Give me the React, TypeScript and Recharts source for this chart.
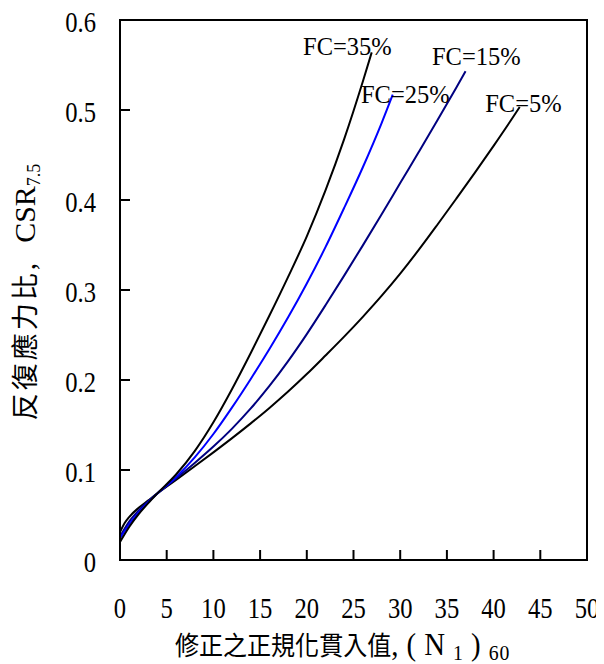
import React from 'react';
import { LineChart, Line, XAxis, YAxis, ReferenceArea, ReferenceDot } from 'recharts';

const xTicks = [0, 5, 10, 15, 20, 25, 30, 35, 40, 45, 50];
const yTicks = [0, 0.1, 0.2, 0.3, 0.4, 0.5, 0.6];
const yTickLabels = ['0', '0.1', '0.2', '0.3', '0.4', '0.5', '0.6'];

const fc35N = [0, 1, 2, 3, 4, 6, 8, 10, 12, 14, 16, 18, 20, 22, 24, 26, 26.95];
const fc35CSR = [0.020, 0.037, 0.051, 0.063, 0.074, 0.095, 0.121, 0.153, 0.190, 0.230, 0.2716, 0.3146, 0.3596, 0.4106, 0.4676, 0.5316, 0.564];

const fc25N = [0, 1, 2, 3, 4, 6, 8, 10, 12, 14, 16, 18, 20, 22, 24, 26, 28, 29.2];
const fc25CSR = [0.024, 0.040, 0.053, 0.064, 0.074, 0.092, 0.114, 0.140, 0.1696, 0.2012, 0.2344, 0.2696, 0.3072, 0.3476, 0.3912, 0.4364, 0.4852, 0.517];

const fc15N = [0, 1, 2, 3, 4, 6, 8, 10, 12, 14, 16, 18, 20, 22, 24, 26, 28, 30, 32, 34, 36, 37];
const fc15CSR = [0.026, 0.043, 0.055, 0.065, 0.074, 0.0906, 0.1078, 0.126, 0.146, 0.1684, 0.1934, 0.221, 0.251, 0.283, 0.316, 0.3496, 0.3838, 0.4188, 0.4536, 0.4888, 0.5248, 0.543];

const fc5N = [0, 0.5, 1, 2, 3, 4, 6, 8, 10, 12, 14, 16, 18, 20, 22, 24, 26, 28, 30, 32, 34, 36, 38, 40, 42, 42.8];
const fc5CSR = [0.031, 0.041, 0.048, 0.058, 0.066, 0.074, 0.089, 0.1042, 0.1196, 0.1354, 0.1518, 0.169, 0.1872, 0.2066, 0.2272, 0.2482, 0.2702, 0.2934, 0.3182, 0.3448, 0.3728, 0.4014, 0.4304, 0.4602, 0.4908, 0.5034];

const curveLabels = ['FC=35%', 'FC=25%', 'FC=15%', 'FC=5%'];
const labelN = [19.6, 25.8, 33.4, 39.1];
const labelCSR = [0.561, 0.508, 0.55, 0.498];

const toData = (ns: number[], cs: number[]) => ns.map((n, i) => ({ n, csr: cs[i] }));

const d35 = toData(fc35N, fc35CSR);
const d25 = toData(fc25N, fc25CSR);
const d15 = toData(fc15N, fc15CSR);
const d5 = toData(fc5N, fc5CSR);

const SERIF = '"Liberation Serif", "Times New Roman", Times, serif';
const CJKF = '"Noto Sans CJK TC", "Noto Sans CJK SC", sans-serif';

const XTick = (props: any) => {
  const { x, y, payload } = props;
  return (
    <g>
      <line x1={x} x2={x} y1={y} y2={y - 10} stroke="#000" strokeWidth={2} />
      <text
        transform={`translate(${x},${y + 58}) scale(0.82,1)`}
        textAnchor="middle"
        fontSize={30}
        fontFamily={SERIF}
        fill="#000"
      >
        {payload.value}
      </text>
    </g>
  );
};

const YTick = (props: any) => {
  const { x, y, payload } = props;
  const idx = yTicks.indexOf(payload.value);
  const label = idx >= 0 ? yTickLabels[idx] : String(payload.value);
  return (
    <g>
      <line x1={x} x2={x + 10} y1={y} y2={y} stroke="#000" strokeWidth={2} />
      <text
        transform={`translate(${x - 24},${y + 12}) scale(0.82,1)`}
        textAnchor="end"
        fontSize={30}
        fontFamily={SERIF}
        fill="#000"
      >
        {label}
      </text>
    </g>
  );
};

const XTitle = (props: any) => {
  const vb = props.viewBox;
  const sx = vb.x + 55;
  const by = vb.y + 95;
  return (
    <text transform={`translate(${sx},${by}) scale(0.9,1)`} textAnchor="start" fill="#000" fontFamily={SERIF}>
      <tspan fontSize={26.7} fontFamily={CJKF}>修正之正規化貫入值</tspan>
      <tspan fontSize={32} letterSpacing={9}>,(N</tspan>
      <tspan fontSize={22} dy={5} letterSpacing={9}>1</tspan>
      <tspan fontSize={32} dy={-5} letterSpacing={9}>)</tspan>
      <tspan fontSize={22} dy={5} letterSpacing={1}>60</tspan>
    </text>
  );
};

const YTitle = (props: any) => {
  const vb = props.viewBox;
  const cy = vb.y + vb.height / 2 + 2;
  const bx = 35;
  return (
    <text transform={`translate(${bx},${cy}) rotate(-90)`} textAnchor="middle" fill="#000" fontFamily={SERIF}>
      <tspan fontSize={27} letterSpacing={3} fontFamily={CJKF}>反復應力比</tspan>
      <tspan fontSize={30}>,</tspan>
      <tspan fontSize={30} dx={20}>CSR</tspan>
      <tspan fontSize={18} dy={5}>7.5</tspan>
    </text>
  );
};

const makeLabelShape = (text: string) => (p: any) => (
  <text x={p.cx} y={p.cy} fontSize={24.5} fontFamily={SERIF} fill="#000" textAnchor="start">
    {text}
  </text>
);

export default function App() {
  return (
    <div style={{ margin: '-8px 0 0 -8px', width: 604, height: 664 }}>
      <LineChart
        width={604}
        height={664}
        margin={{ top: 20, right: 17, bottom: 44, left: 60 }}
      >
        <XAxis
          type="number"
          dataKey="n"
          domain={[0, 50]}
          ticks={xTicks}
          interval={0}
          tickSize={0}
          tickMargin={0}
          tickLine={false}
          axisLine={{ stroke: '#000', strokeWidth: 2 }}
          tick={<XTick />}
          height={60}
          allowDataOverflow
          label={(p: any) => <XTitle {...p} />}
        />
        <YAxis
          type="number"
          dataKey="csr"
          domain={[0, 0.6]}
          ticks={yTicks}
          interval={0}
          tickSize={0}
          tickMargin={0}
          tickLine={false}
          axisLine={{ stroke: '#000', strokeWidth: 2 }}
          tick={<YTick />}
          width={60}
          allowDataOverflow
          label={(p: any) => <YTitle {...p} />}
        />
        <ReferenceArea
          x1={0}
          x2={50}
          y1={0}
          y2={0.6}
          fill="none"
          fillOpacity={0}
          stroke="#000"
          strokeWidth={2}
          ifOverflow="visible"
        />
        <Line data={d5} dataKey="csr" type="monotone" stroke="#000000" strokeWidth={2} dot={false} isAnimationActive={false} />
        <Line data={d15} dataKey="csr" type="monotone" stroke="#000080" strokeWidth={2} dot={false} isAnimationActive={false} />
        <Line data={d25} dataKey="csr" type="monotone" stroke="#0000ff" strokeWidth={2} dot={false} isAnimationActive={false} />
        <Line data={d35} dataKey="csr" type="monotone" stroke="#000000" strokeWidth={2} dot={false} isAnimationActive={false} />
        {curveLabels.map((t, i) => (
          <ReferenceDot
            key={t}
            x={labelN[i]}
            y={labelCSR[i]}
            r={0}
            ifOverflow="visible"
            shape={makeLabelShape(t)}
          />
        ))}
      </LineChart>
    </div>
  );
}
